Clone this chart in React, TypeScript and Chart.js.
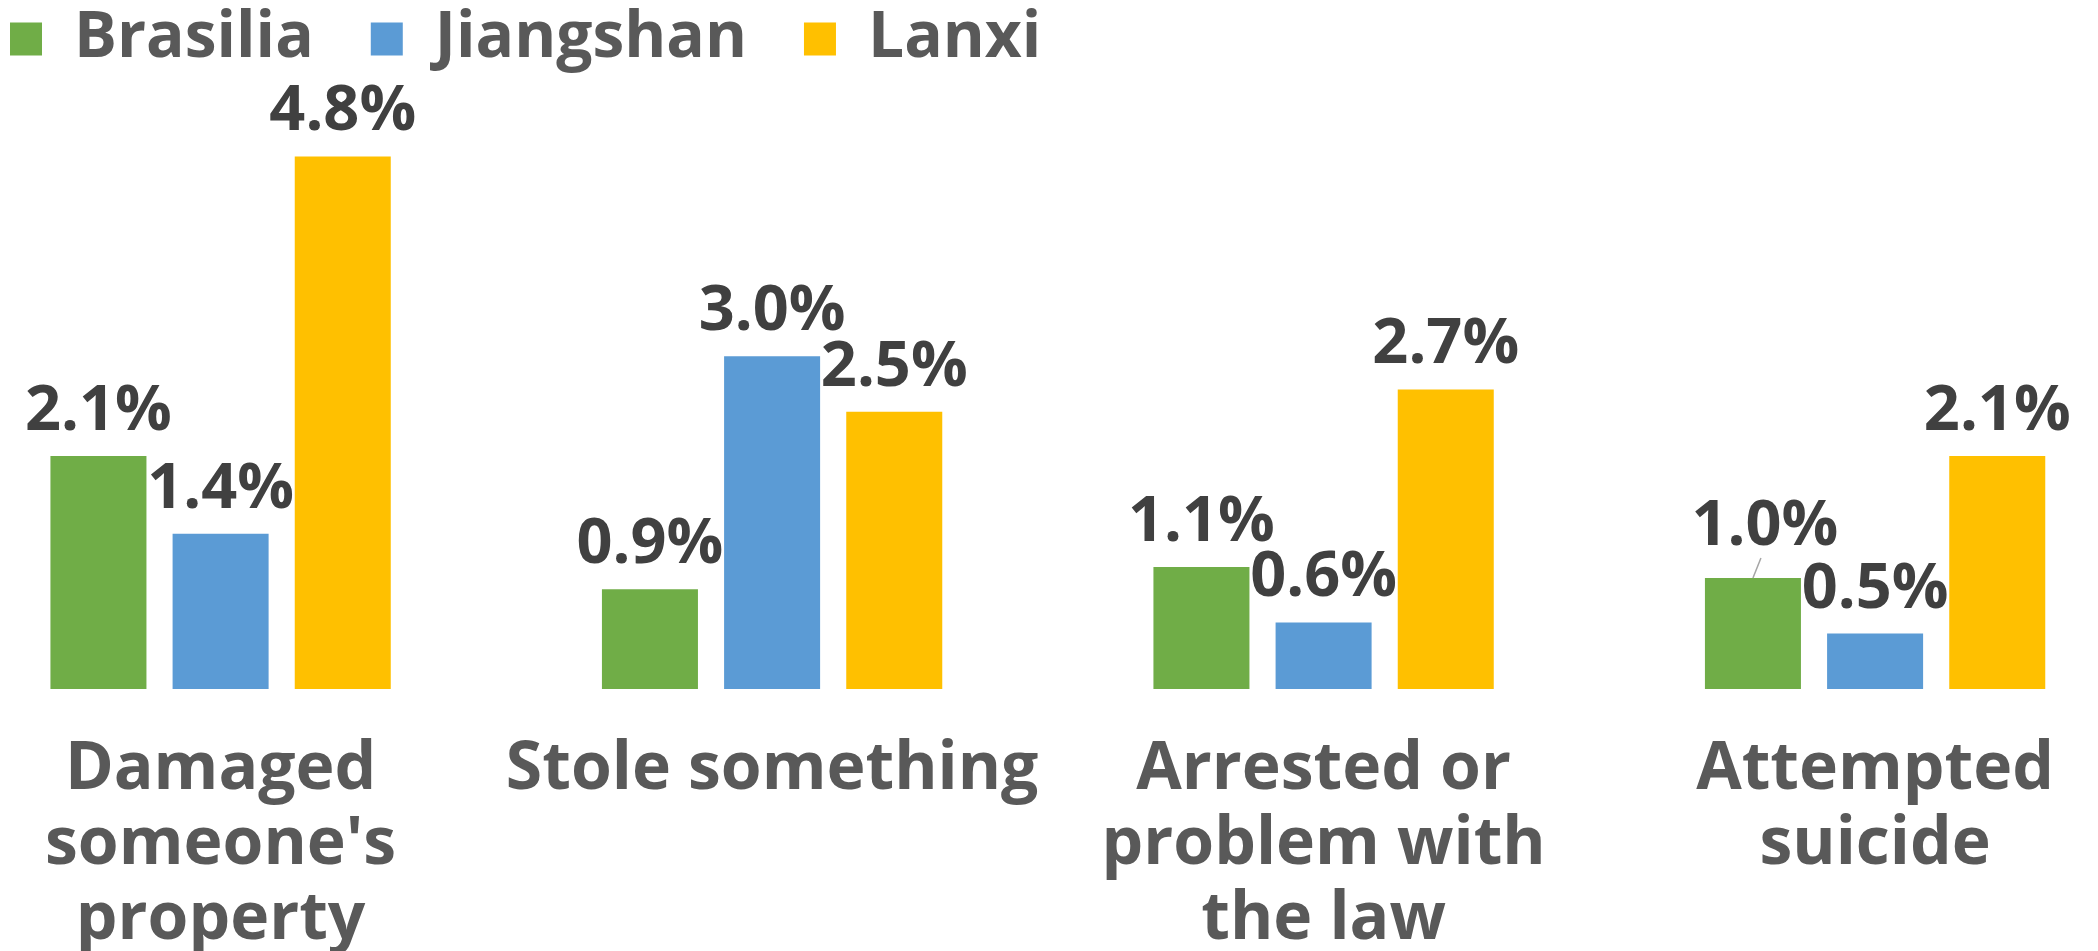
import React, { useEffect, useRef } from "react";
import { Chart, registerables } from "chart.js";

Chart.register(...registerables);

// ---- data ----
const categories: string[][] = [
  ["Damaged", "someone's", "property"],
  ["Stole something"],
  ["Arrested or", "problem with", "the law"],
  ["Attempted", "suicide"],
];
const seriesNames: string[] = ["Brasilia", "Jiangshan", "Lanxi"];
const brasiliaValues: number[] = [2.1, 0.9, 1.1, 1.0];
const jiangshanValues: number[] = [1.4, 3.0, 0.6, 0.5];
const lanxiValues: number[] = [4.8, 2.5, 2.7, 2.1];

// ---- styles ----
const seriesColors: string[] = ["#70AD47", "#5B9BD5", "#FFC000"];
const FONT_FAMILY = '"Open Sans", "DejaVu Sans", sans-serif';
const AXIS_COLOR = "#595959";
const LABEL_COLOR = "#404040";
const LABEL_SIZE = 63;
const LABEL_GAP = 26;
// label nudges (style only): dataset index, point index, offsets, leader line
const labelNudges = [{ dataset: 0, index: 3, dx: 12, dy: -7, leader: true }];

const dataLabelPlugin = {
  id: "dataLabels",
  afterDatasetsDraw(chart: any) {
    const ctx: CanvasRenderingContext2D = chart.ctx;
    ctx.save();
    ctx.font = `bold ${LABEL_SIZE}px ${FONT_FAMILY}`;
    ctx.fillStyle = LABEL_COLOR;
    ctx.textAlign = "center";
    ctx.textBaseline = "alphabetic";
    chart.data.datasets.forEach((ds: any, di: number) => {
      const meta = chart.getDatasetMeta(di);
      meta.data.forEach((el: any, i: number) => {
        const v = ds.data[i].y as number;
        const n = labelNudges.find((q) => q.dataset === di && q.index === i);
        const dx = n ? n.dx : 0;
        const dy = n ? n.dy : 0;
        const baseY = el.y - LABEL_GAP + dy;
        if (n && n.leader) {
          ctx.save();
          ctx.strokeStyle = "#A6A6A6";
          ctx.lineWidth = 1.5;
          ctx.beginPath();
          ctx.moveTo(el.x + dx - 4, baseY + 13);
          ctx.lineTo(el.x, el.y);
          ctx.stroke();
          ctx.restore();
        }
        ctx.fillText(v.toFixed(1) + "%", el.x + dx, baseY);
      });
    });
    ctx.restore();
  },
};

export default function App() {
  const canvasRef = useRef<HTMLCanvasElement | null>(null);

  useEffect(() => {
    if (!canvasRef.current) return;
    const allSeries = [brasiliaValues, jiangshanValues, lanxiValues];
    const chart = new Chart(canvasRef.current, {
      type: "bar",
      data: {
        datasets: allSeries.map((vals, si) => ({
          label: seriesNames[si],
          data: vals.map((v, i) => ({ x: i, y: v })),
          backgroundColor: seriesColors[si],
          borderWidth: 0,
          categoryPercentage: 0.6645,
          barPercentage: 0.786,
        })),
      },
      options: {
        animation: false,
        responsive: true,
        maintainAspectRatio: false,
        layout: { padding: { top: -50, left: -47, right: 0, bottom: 0 } },
        plugins: {
          legend: {
            position: "top",
            align: "start",
            labels: {
              boxWidth: 32,
              boxHeight: 33,
              padding: 57,
              color: AXIS_COLOR,
              font: { family: FONT_FAMILY, weight: "bold", size: 64 },
            },
          },
          tooltip: { enabled: false },
        },
        scales: {
          x: {
            type: "linear",
            offset: false,
            min: -0.4,
            max: 3.4,
            grid: { display: false, drawTicks: false, offset: false },
            border: { display: false },
            ticks: {
              stepSize: 1,
              includeBounds: false,
              autoSkip: false,
              maxRotation: 0,
              minRotation: 0,
              padding: 44,
              color: AXIS_COLOR,
              font: { family: FONT_FAMILY, weight: "bold", size: 66, lineHeight: 75 / 66 },
              callback: (value: any) => {
                const c = categories[value as number];
                return c ? c : "";
              },
            },
            afterFit: (scale: any) => {
              scale.height = 262;
            },
          },
          y: {
            display: false,
            min: 0,
            max: 5.48,
          },
        },
      } as any,
      plugins: [dataLabelPlugin],
    });
    return () => chart.destroy();
  }, []);

  return (
    <div style={{ position: "fixed", left: 0, top: 0, width: 2098, height: 951, background: "#fff" }}>
      <canvas ref={canvasRef} />
    </div>
  );
}
